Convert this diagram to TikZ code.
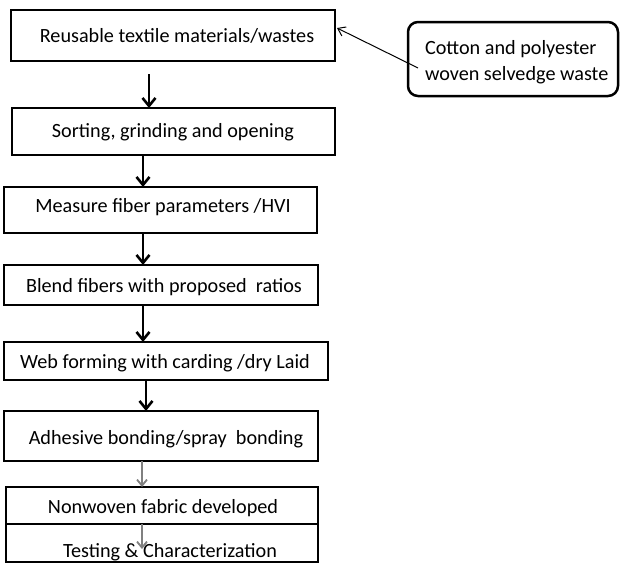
\documentclass[tikz,border=0pt]{standalone}
\usepackage{fontspec}
\setmainfont{Carlito}
\usetikzlibrary{arrows.meta}
\begin{document}
\begin{tikzpicture}[x=1pt,y=-1pt,
  stepbox/.style={draw,line width=2.8pt,inner sep=0pt,outer sep=0pt},
  sidebox/.style={draw,line width=2.5pt,rounded corners=10pt,inner sep=0pt,outer sep=0pt},
  txt/.style={font=\fontsize{20.2}{26}\selectfont,inner sep=0pt,outer sep=0pt,anchor=base},
  flow/.style={line width=2.6pt,-{Straight Barb[length=8pt,width=13pt,line width=2.6pt]}},
  grayflow/.style={line width=1.8pt,color=black!50,-{Straight Barb[length=6pt,width=10pt,line width=1.8pt]}},
  thin/.style={line width=1pt,-{Straight Barb[length=7pt,width=10pt,line width=1pt]}}
]
\useasboundingbox (0,0) rectangle (622,563);

% boxes
\node[stepbox,minimum width=324pt,minimum height=51pt] (b1) at (173,35.5) {};
\node[stepbox,minimum width=323pt,minimum height=47pt] (b2) at (173.5,131.5) {};
\node[stepbox,minimum width=313pt,minimum height=46pt] (b3) at (160.5,210) {};
\node[stepbox,minimum width=314pt,minimum height=40pt] (b4) at (161,285) {};
\node[stepbox,minimum width=324pt,minimum height=38pt] (b5) at (166,361) {};
\node[stepbox,minimum width=314pt,minimum height=50pt] (b6) at (161,436) {};
\node[stepbox,minimum width=312pt,minimum height=37pt] (b7) at (162,505.5) {};
\node[stepbox,minimum width=312pt,minimum height=38pt] (b8) at (162,543) {};
\node[sidebox,minimum width=210pt,minimum height=74pt] (s) at (513,59) {};

% texts
\node[txt] (t1) at (177,42) {Reusable textile materials/wastes};
\node[txt] (t2) at (173,137) {Sorting, grinding and opening};
\node[txt] (t3) at (163,212) {Measure fiber parameters /HVI};
\node[txt] (t4) at (164,292) {Blend fibers with proposed~ ratios};
\node[txt] (t5) at (165,368) {Web forming with carding /dry Laid};
\node[txt] (t6) at (166,444) {Adhesive bonding/spray~~bonding};
\node[txt] (t7) at (163,513) {Nonwoven fabric developed};
\node[txt] (t8) at (170,557) {Testing \& Characterization};
\node[txt,anchor=base west] (ts1) at (425,54) {Cotton and polyester};
\node[txt,anchor=base west] (ts2) at (425,80) {woven selvedge waste};

% connectors
\coordinate (a1s) at (149,74);
\draw[flow] (a1s) -- (a1s |- b2.north);
\draw[flow] ([xshift=-30.5pt]b2.south) -- ([xshift=-30.5pt]b2.south |- b3.north);
\draw[flow] ([xshift=-17.5pt]b3.south) -- ([xshift=-17.5pt]b3.south |- b4.north);
\draw[flow] ([xshift=-18pt]b4.south) -- ([xshift=-18pt]b4.south |- b5.north);
\draw[flow] ([xshift=-20pt]b5.south) -- ([xshift=-20pt]b5.south |- b6.north);
\draw[grayflow] ([xshift=-19pt]b6.south) -- ([xshift=-19pt]b6.south |- b7.north);
\coordinate (a7e) at (142,549);
\draw[grayflow] ([xshift=-20pt]b7.south) -- (a7e);

\coordinate (cs) at (418,68);
\coordinate (ce) at (337,28);
\draw[thin] (cs) -- (ce);
\end{tikzpicture}
\end{document}
